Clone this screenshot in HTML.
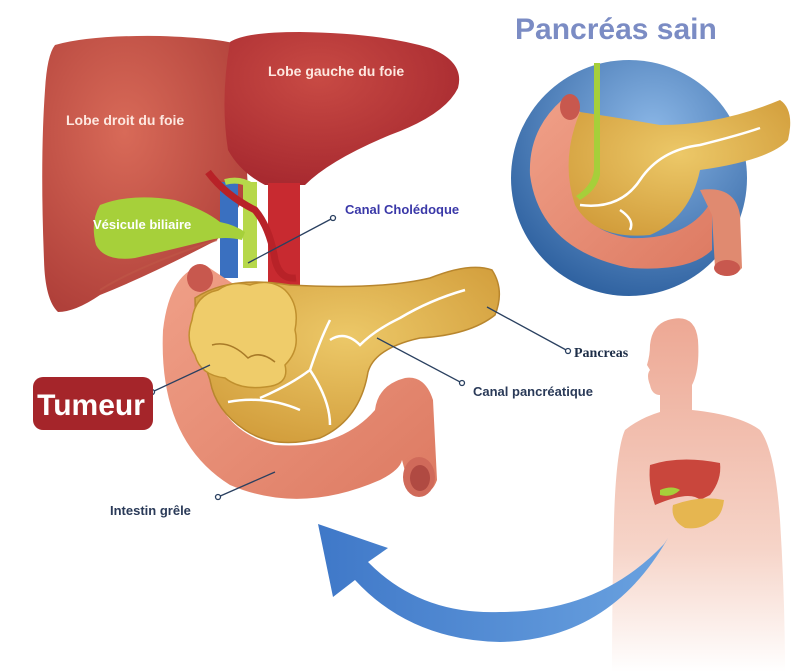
<!DOCTYPE html>
<html><head><meta charset="utf-8"><style>
html,body{margin:0;padding:0;background:#fff;}
svg{display:block;}
text{font-family:"Liberation Sans",sans-serif;}
</style></head><body>
<svg width="809" height="672" viewBox="0 0 809 672" xmlns="http://www.w3.org/2000/svg">
<defs>
<radialGradient id="liv" cx="40%" cy="35%" r="70%"><stop offset="0" stop-color="#d86a58"/><stop offset="1" stop-color="#b0403a"/></radialGradient>
<radialGradient id="liv2" cx="40%" cy="30%" r="70%"><stop offset="0" stop-color="#c84a44"/><stop offset="1" stop-color="#a82a30"/></radialGradient>
<radialGradient id="pan" cx="50%" cy="40%" r="70%"><stop offset="0" stop-color="#ecc868"/><stop offset="1" stop-color="#d09a38"/></radialGradient>
<linearGradient id="int" x1="0" y1="0" x2="1" y2="1"><stop offset="0" stop-color="#f0a088"/><stop offset="1" stop-color="#dd7a62"/></linearGradient>
<radialGradient id="circ" cx="60%" cy="30%" r="75%"><stop offset="0" stop-color="#8ab6e6"/><stop offset="1" stop-color="#2c5f9e"/></radialGradient>
<linearGradient id="body" x1="0" y1="0" x2="0" y2="1"><stop offset="0" stop-color="#eda894"/><stop offset="0.65" stop-color="#f6d4c8"/><stop offset="1" stop-color="#fff"/></linearGradient>
<linearGradient id="arr" x1="1" y1="0" x2="0" y2="0"><stop offset="0" stop-color="#6aa2e0"/><stop offset="1" stop-color="#3f78c8"/></linearGradient>
</defs>

<!-- Circle inset -->
<circle cx="629" cy="178" r="118" fill="url(#circ)"/>
<path d="M562 100 Q528 130 530 175 Q540 250 630 268 Q690 272 712 250 L712 200 Q690 240 630 238 Q575 230 572 180 Q572 140 585 115 Z" fill="url(#int)"/>
<ellipse cx="570" cy="107" rx="10" ry="13" fill="#c8584e"/>
<path d="M700 190 Q735 185 740 215 L742 268 Q730 282 715 268 L712 215 Z" fill="#e08a70"/>
<ellipse cx="727" cy="268" rx="13" ry="8" fill="#c8584e"/>
<path d="M580 112 Q620 118 660 125 Q720 125 780 100 Q795 110 788 140 Q770 160 700 170 Q690 218 650 235 Q595 240 575 205 Q560 160 580 112Z" fill="url(#pan)"/>
<path d="M594 63 L600 63 L600 175 Q597 190 580 200 L576 196 Q592 186 594 170Z" fill="#a6cf3a"/>
<path d="M580 205 Q620 210 640 180 Q660 150 700 145 Q740 135 760 128 M620 210 Q635 220 630 230" stroke="#fff" stroke-width="2.5" fill="none"/>
<text x="515" y="39" font-size="30" font-weight="bold" fill="#7b8cc4">Pancréas sain</text>

<!-- Human silhouette -->
<path d="M668 320 Q695 312 698 340 Q700 370 692 385 L692 410 Q740 415 760 430 Q775 450 780 520 Q785 600 785 672 L612 672 Q612 600 614 520 Q616 450 625 430 Q640 418 660 412 L660 395 Q652 395 650 385 Q646 375 650 370 L647 365 Q650 355 650 345 Q652 325 668 320Z" fill="url(#body)"/>
<path d="M650 465 Q680 455 720 463 Q722 480 710 495 L700 500 Q690 490 655 505 Q648 485 650 465Z" fill="#c9463c"/>
<path d="M673 505 Q700 495 724 500 Q722 518 710 522 Q700 530 685 528 Q670 520 673 505Z" fill="#e6b650"/>
<path d="M660 490 Q672 485 680 490 Q672 498 660 495Z" fill="#a6cf3a"/>

<!-- Blue arrow -->
<path d="M668 538 Q610 640 500 642 Q410 640 355 580 L333 597 L318 524 L388 548 L368 562 Q420 615 500 612 Q600 612 664 544Z" fill="url(#arr)"/>

<!-- Liver right lobe -->
<path d="M55 45 Q90 35 160 36 Q220 38 240 45 L248 190 Q235 215 217 240 Q150 275 100 295 Q75 312 58 312 Q45 300 44 260 Q40 160 45 90 Q47 55 55 45Z" fill="url(#liv)"/>
<path d="M100 290 Q140 265 217 240" stroke="#c05848" stroke-width="2" fill="none" opacity="0.6"/>
<!-- Liver left lobe -->
<path d="M230 42 Q245 32 300 32 Q380 33 430 48 Q465 62 458 88 Q445 115 390 135 Q330 160 305 185 L265 185 Q240 172 228 150 Q220 100 230 42Z" fill="url(#liv2)"/>
<!-- vessels -->
<rect x="220" y="182" width="18" height="96" fill="#3a70c0"/>
<rect x="268" y="183" width="32" height="107" fill="#c82a30"/>
<rect x="243" y="182" width="14" height="86" fill="#b6d84a"/>
<path d="M208 172 Q225 195 255 210 Q270 228 275 260 Q280 280 296 278" stroke="#b82228" stroke-width="7" fill="none"/>
<path d="M225 182 Q240 178 252 186" stroke="#b6d84a" stroke-width="6" fill="none"/>
<!-- gallbladder -->
<path d="M100 205 Q130 193 175 200 Q205 210 220 222 Q235 225 245 232 L242 240 Q225 236 210 240 Q170 250 135 258 Q105 262 96 245 Q90 222 100 205Z" fill="#a6d03a"/>

<!-- Intestine C -->
<path d="M205 265 Q170 270 163 330 Q158 440 230 485 Q300 515 380 480 Q400 470 402 460 L410 490 Q430 500 437 480 L433 400 Q425 375 405 378 Q378 385 375 410 Q340 450 275 445 Q215 430 208 365 Q205 300 232 283 Z" fill="url(#int)"/>
<ellipse cx="200" cy="278" rx="13" ry="14" fill="#c8584e"/>
<ellipse cx="419" cy="477" rx="16" ry="20" fill="#d06a5a"/>
<ellipse cx="420" cy="478" rx="10" ry="13" fill="#b04a42"/>

<!-- Pancreas -->
<path d="M195 298 Q230 275 290 285 Q380 290 430 278 Q470 262 492 270 Q505 290 495 315 Q470 335 420 338 Q375 348 368 372 Q360 420 320 438 Q275 450 245 430 Q215 410 210 380 Q195 340 195 298Z" fill="url(#pan)" stroke="#b8862e" stroke-width="1.5"/>
<path d="M228 402 Q265 395 300 410 M260 398 Q290 385 310 370 Q320 340 330 320 M310 370 Q330 400 330 425 M330 340 Q345 330 360 345 Q375 330 400 318 Q430 300 465 290" stroke="#fff" stroke-width="2.5" fill="none"/>
<!-- Tumor -->
<path d="M192 320 Q195 295 218 290 Q232 280 250 285 Q270 278 285 290 Q300 305 295 330 Q300 350 285 365 Q290 385 265 387 Q240 390 225 378 Q200 375 195 355 Q185 340 192 320Z" fill="#efcc6a" stroke="#c0902e" stroke-width="1.5"/>
<path d="M212 345 Q230 340 248 358 Q260 350 275 362" stroke="#a87a28" stroke-width="1.5" fill="none"/>

<!-- Leader lines -->
<g stroke="#2a4060" stroke-width="1.3" fill="none">
<line x1="248" y1="263" x2="333" y2="218"/>
<line x1="487" y1="307" x2="568" y2="351"/>
<line x1="377" y1="338" x2="462" y2="383"/>
<line x1="210" y1="365" x2="152" y2="392"/>
<line x1="275" y1="472" x2="218" y2="497"/>
</g>
<g fill="#fff" stroke="#2a4060" stroke-width="1.3"><circle cx="333" cy="218" r="2.5"/><circle cx="568" cy="351" r="2.5"/><circle cx="462" cy="383" r="2.5"/><circle cx="218" cy="497" r="2.5"/><circle cx="152" cy="392" r="2.5"/></g>

<!-- Labels -->
<text x="66" y="125" font-size="14" font-weight="bold" fill="#fde8e0">Lobe droit du foie</text>
<text x="268" y="76" font-size="14" font-weight="bold" fill="#fde8e0">Lobe gauche du foie</text>
<text x="93" y="229" font-size="13" font-weight="bold" fill="#fff">Vésicule biliaire</text>
<text x="345" y="214" font-size="13" font-weight="bold" fill="#3a38a8">Canal Cholédoque</text>
<text x="574" y="357" font-size="14" font-weight="bold" fill="#1e2e48" style="font-family:'Liberation Serif',serif">Pancreas</text>
<text x="473" y="396" font-size="13" font-weight="bold" fill="#2a3a58">Canal pancréatique</text>
<text x="110" y="515" font-size="13" font-weight="bold" fill="#2a3a58">Intestin grêle</text>

<rect x="33" y="377" width="120" height="53" rx="10" fill="#a5252a"/>
<text x="91" y="415" font-size="30" font-weight="bold" fill="#fff" text-anchor="middle">Tumeur</text>
</svg>
</body></html>
